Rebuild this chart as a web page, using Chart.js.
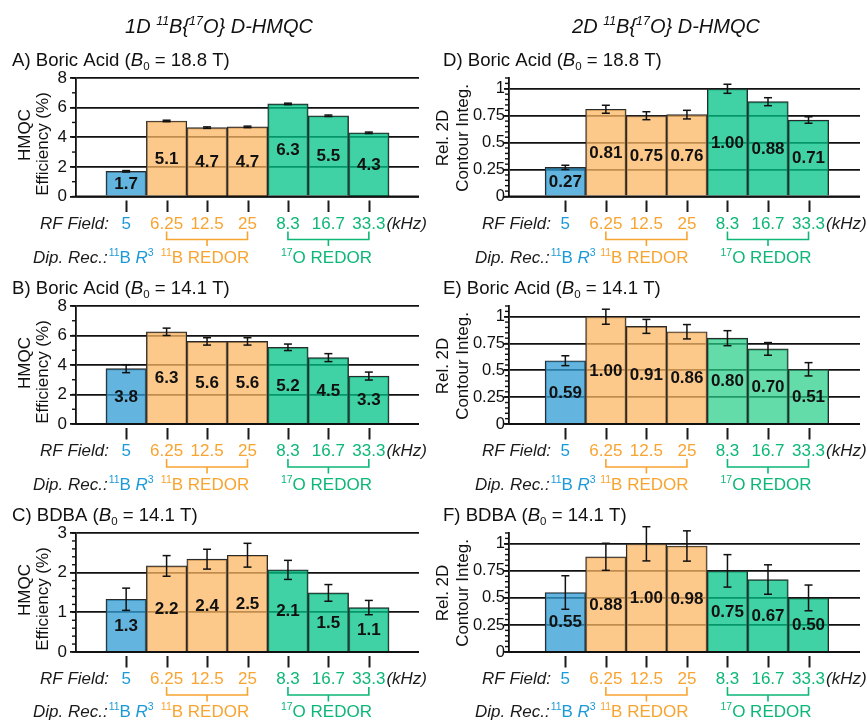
<!DOCTYPE html>
<html>
<head>
<meta charset="utf-8">
<title>11B{17O} D-HMQC efficiency</title>
<script src="https://cdn.jsdelivr.net/npm/chart.js@4.4.1/dist/chart.umd.min.js"></script>
<style>
  html, body { margin: 0; padding: 0; background: #fff; }
  #wrap { position: relative; width: 867px; height: 721px; overflow: hidden; }
  #wrap canvas { position: absolute; left: 0; top: 0; }
</style>
</head>
<body>
<div id="wrap">
  <canvas id="cA" width="867" height="721"></canvas>
  <canvas id="cB" width="867" height="721"></canvas>
  <canvas id="cC" width="867" height="721"></canvas>
  <canvas id="cD" width="867" height="721"></canvas>
  <canvas id="cE" width="867" height="721"></canvas>
  <canvas id="cF" width="867" height="721"></canvas>
</div>
<script>
// ---- data ----
const rfField = ["5", "6.25", "12.5", "25", "8.3", "16.7", "33.3"];
const barGroup = [0, 1, 1, 1, 2, 2, 2]; // 0 = 11B R3, 1 = 11B REDOR, 2 = 17O REDOR

// 1D HMQC efficiency (%)
const effA = [1.7, 5.1, 4.65, 4.7, 6.25, 5.45, 4.3];
const errA = [0.05, 0.05, 0.05, 0.05, 0.05, 0.05, 0.05];
const labA = ["1.7", "5.1", "4.7", "4.7", "6.3", "5.5", "4.3"];

const effB = [3.75, 6.25, 5.6, 5.6, 5.2, 4.5, 3.25];
const errB = [0.27, 0.25, 0.25, 0.25, 0.22, 0.27, 0.27];
const labB = ["3.8", "6.3", "5.6", "5.6", "5.2", "4.5", "3.3"];

const effC = [1.33, 2.17, 2.34, 2.44, 2.07, 1.49, 1.12];
const errC = [0.28, 0.26, 0.25, 0.3, 0.24, 0.21, 0.18];
const labC = ["1.3", "2.2", "2.4", "2.5", "2.1", "1.5", "1.1"];

// 2D relative contour integrals
const relD = [0.27, 0.81, 0.75, 0.76, 1.0, 0.88, 0.71];
const errD = [0.02, 0.037, 0.037, 0.04, 0.042, 0.037, 0.03];
const labD = ["0.27", "0.81", "0.75", "0.76", "1.00", "0.88", "0.71"];

const relE = [0.59, 1.0, 0.91, 0.86, 0.8, 0.7, 0.51];
const errE = [0.046, 0.07, 0.065, 0.067, 0.07, 0.059, 0.062];
const labE = ["0.59", "1.00", "0.91", "0.86", "0.80", "0.70", "0.51"];

const relF = [0.55, 0.88, 1.0, 0.98, 0.75, 0.67, 0.5];
const errF = [0.155, 0.125, 0.158, 0.14, 0.15, 0.136, 0.119];
const labF = ["0.55", "0.88", "1.00", "0.98", "0.75", "0.67", "0.50"];

const dipRec = [
  [{ t: "11", s: "sup" }, { t: "B " }, { t: "R", it: true }, { t: "3", s: "sup" }],
  [{ t: "11", s: "sup" }, { t: "B REDOR" }],
  [{ t: "17", s: "sup" }, { t: "O REDOR" }],
];

// ---- styling ----
const FAM = '"Liberation Sans", Arial, Helvetica, sans-serif';
const textCol = ["#1b9ad7", "#f8a431", "#0db777"];
const barCol = ["rgba(50,158,213,0.76)", "rgba(252,183,100,0.75)", "rgba(0,195,134,0.75)"];
const barColLight = "rgba(40,206,136,0.72)";

const cols = [
  { x0: 76, x1: 419, xmin: -1.24, xmax: 7.24, titleX: 12, rfX: 40, dipX: 33, yt: [25, 43], ytOff: [57, 66], headX: 219, tickSize: 17, tickPad: 3, tickLen: 6 },
  { x0: 509, x1: 860, xmin: -1.39, xmax: 7.27, titleX: 443, rfX: 482, dipX: 475, yt: [443, 463], ytOff: [60, 60], headX: 666, tickSize: 16.5, tickPad: -1, tickLen: 5 },
];
const rows = [
  { top: 78, bottom: 196.5, rf: 32, dip: 66 },
  { top: 306, bottom: 424, rf: 32, dip: 66 },
  { top: 533, bottom: 652, rf: 32, dip: 64.5 },
];

function runFont(r, size) {
  const sz = r.s ? size * 0.62 : size;
  return (r.it ? "italic " : "") + (r.b ? "bold " : "") + sz.toFixed(1) + "px " + FAM;
}
function runsWidth(ctx, runs, size) {
  let w = 0;
  runs.forEach((r) => {
    ctx.font = runFont(r, size);
    w += ctx.measureText(r.t).width;
  });
  return w;
}
function drawRuns(ctx, runs, x, y, size, align, color) {
  const w = runsWidth(ctx, runs, size);
  let cx = align === "center" ? x - w / 2 : align === "right" ? x - w : x;
  ctx.textAlign = "left";
  ctx.textBaseline = "alphabetic";
  runs.forEach((r) => {
    ctx.font = runFont(r, size);
    ctx.fillStyle = r.c || color || "#111";
    const dy = r.s === "sup" ? -size * 0.4 : r.s === "sub" ? size * 0.24 : 0;
    ctx.fillText(r.t, cx, y + dy);
    cx += ctx.measureText(r.t).width;
  });
  return cx;
}
function seg(ctx, xa, ya, xb, yb) {
  ctx.beginPath();
  ctx.moveTo(xa, ya);
  ctx.lineTo(xb, yb);
  ctx.stroke();
}

const deco = {
  id: "deco",
  afterDraw(chart, args, o) {
    const ctx = chart.ctx;
    const area = chart.chartArea;
    const ys = chart.scales.y;
    const bars = chart.getDatasetMeta(0).data;
    const col = o.col;
    const row = o.row;
    const b = area.bottom;
    ctx.save();

    // baseline over the bars
    ctx.strokeStyle = "#111";
    ctx.lineWidth = 1.8;
    seg(ctx, area.left, ys.getPixelForValue(0), area.right, ys.getPixelForValue(0));

    // tick marks under the axis, one per bar
    ctx.strokeStyle = "#1a1a1a";
    ctx.lineWidth = 2;
    bars.forEach((el) => seg(ctx, Math.round(el.x) + 0.5, b + 4, Math.round(el.x) + 0.5, b + 15.5));

    // minor ticks on y axis
    ctx.strokeStyle = "#111";
    ctx.lineWidth = 1.4;
    for (let v = 0; v <= ys.max + 1e-9; v += o.minor) {
      const p = ys.getPixelForValue(v);
      seg(ctx, area.left - 4, p, area.left, p);
    }

    // error bars
    ctx.lineWidth = 1.5;
    bars.forEach((el, i) => {
      const hi = ys.getPixelForValue(o.vals[i] + o.err[i]);
      const lo = ys.getPixelForValue(o.vals[i] - o.err[i]);
      seg(ctx, el.x, hi, el.x, lo);
      seg(ctx, el.x - 4, hi, el.x + 4, hi);
      seg(ctx, el.x - 4, lo, el.x + 4, lo);
    });

    // value labels inside bars
    ctx.fillStyle = "#111";
    ctx.font = "bold 17px " + FAM;
    ctx.textAlign = "center";
    ctx.textBaseline = "middle";
    bars.forEach((el, i) => {
      ctx.fillText(o.labs[i], el.x, (el.y + el.base) / 2 + 1);
    });

    // panel title
    drawRuns(ctx, [{ t: o.letter + ") " + o.sample + " (" }, { t: "B", it: true }, { t: "0", s: "sub" }, { t: " = " + o.field + " T)" }], col.titleX, area.top - 12.5, 18.6, "left", "#111");

    // y axis title (two lines, rotated)
    o.yTitle.forEach((line, k) => {
      ctx.save();
      ctx.translate(col.yt[k], area.top + col.ytOff[k]);
      ctx.rotate(-Math.PI / 2);
      ctx.font = "17px " + FAM;
      ctx.fillStyle = "#111";
      ctx.textAlign = "center";
      ctx.textBaseline = "middle";
      ctx.fillText(line, 0, 0);
      ctx.restore();
    });

    // header above the column
    if (o.header) {
      drawRuns(ctx, o.header, col.headX, 33, 20, "center", "#111");
    }

    // RF field row
    const rfY = b + row.rf;
    drawRuns(ctx, [{ t: "RF Field:", it: true }], col.rfX, rfY, 17, "left", "#1a1a1a");
    bars.forEach((el, i) => {
      drawRuns(ctx, [{ t: rfField[i] }], el.x, rfY, 17, "center", textCol[barGroup[i]]);
    });
    const last = bars[bars.length - 1];
    ctx.font = "17px " + FAM;
    const lw = ctx.measureText(rfField[rfField.length - 1]).width;
    drawRuns(ctx, [{ t: "(kHz)", it: true }], last.x + lw / 2 + 1, rfY, 17, "left", "#1a1a1a");

    // brackets
    const xm = {};
    [1, 2].forEach((g) => {
      const idx = barGroup.map((v, i) => (v === g ? i : -1)).filter((i) => i >= 0);
      const xa = bars[idx[0]].x;
      const xb = bars[idx[idx.length - 1]].x;
      xm[g] = (xa + xb) / 2;
      const yb = rfY + 11;
      ctx.strokeStyle = textCol[g];
      ctx.lineWidth = 1.6;
      ctx.beginPath();
      ctx.moveTo(xa, yb - 8);
      ctx.lineTo(xa, yb);
      ctx.lineTo(xb, yb);
      ctx.lineTo(xb, yb - 8);
      ctx.moveTo(xm[g], yb);
      ctx.lineTo(xm[g], yb + 6.5);
      ctx.stroke();
    });

    // dipolar recoupling row
    const dipY = b + row.dip;
    const xe = drawRuns(ctx, [{ t: "Dip. Rec.:", it: true }], col.dipX, dipY, 17, "left", "#1a1a1a");
    drawRuns(ctx, dipRec[0], xe + 1, dipY, 17, "left", textCol[0]);
    drawRuns(ctx, dipRec[1], xm[1] - 2, dipY, 17, "center", textCol[1]);
    drawRuns(ctx, dipRec[2], xm[2] - 2, dipY, 17, "center", textCol[2]);

    ctx.restore();
  },
};

function makePanel(id, colIdx, rowIdx, cfg) {
  const col = cols[colIdx];
  const row = rows[rowIdx];
  const yW = 40;
  const colors = barGroup.map((g) => (cfg.lightGreen && g === 2 ? barColLight : barCol[g]));
  return new Chart(document.getElementById(id), {
    type: "bar",
    data: {
      datasets: [
        {
          data: cfg.vals.map((v, i) => ({ x: i, y: v })),
          backgroundColor: colors,
          borderColor: "#2a2a2a",
          borderWidth: 1.2,
          barPercentage: 1,
          categoryPercentage: 1,
        },
      ],
    },
    options: {
      responsive: false,
      animation: false,
      events: [],
      layout: {
        padding: { left: col.x0 - yW, right: 867 - col.x1, top: row.top, bottom: 721 - row.bottom },
      },
      plugins: {
        legend: { display: false },
        tooltip: { enabled: false },
        deco: Object.assign({ col, row }, cfg),
      },
      scales: {
        x: { type: "linear", display: false, min: col.xmin, max: col.xmax, offset: false },
        y: {
          min: 0,
          max: cfg.ymax,
          afterFit(scale) {
            scale.width = yW;
          },
          border: { display: true, color: "#111", width: 1.8 },
          grid: { color: "#111", lineWidth: 1.8, drawTicks: true, tickLength: col.tickLen, tickColor: "#111" },
          ticks: {
            stepSize: cfg.step,
            includeBounds: false,
            padding: col.tickPad,
            color: "#111",
            font: { family: FAM, size: col.tickSize },
            callback: (v) => String(v),
          },
        },
      },
    },
    plugins: [deco],
  });
}

const head1D = [{ t: "1D ", it: true }, { t: "11", s: "sup", it: true }, { t: "B{", it: true }, { t: "17", s: "sup", it: true }, { t: "O} D-HMQC", it: true }];
const head2D = [{ t: "2D ", it: true }, { t: "11", s: "sup", it: true }, { t: "B{", it: true }, { t: "17", s: "sup", it: true }, { t: "O} D-HMQC", it: true }];
const effTitle = ["HMQC", "Efficiency (%)"];
const relTitle = ["Rel. 2D", "Contour Integ."];

makePanel("cA", 0, 0, { vals: effA, err: errA, labs: labA, ymax: 8, step: 2, minor: 1, letter: "A", sample: "Boric Acid", field: "18.8", yTitle: effTitle, header: head1D });
makePanel("cB", 0, 1, { vals: effB, err: errB, labs: labB, ymax: 8, step: 2, minor: 1, letter: "B", sample: "Boric Acid", field: "14.1", yTitle: effTitle });
makePanel("cC", 0, 2, { vals: effC, err: errC, labs: labC, ymax: 3, step: 1, minor: 0.2, letter: "C", sample: "BDBA", field: "14.1", yTitle: effTitle });
makePanel("cD", 1, 0, { vals: relD, err: errD, labs: labD, ymax: 1.1, step: 0.25, minor: 0.05, letter: "D", sample: "Boric Acid", field: "18.8", yTitle: relTitle, header: head2D });
makePanel("cE", 1, 1, { vals: relE, err: errE, labs: labE, ymax: 1.1, step: 0.25, minor: 0.05, letter: "E", sample: "Boric Acid", field: "14.1", yTitle: relTitle, lightGreen: true });
makePanel("cF", 1, 2, { vals: relF, err: errF, labs: labF, ymax: 1.1, step: 0.25, minor: 0.05, letter: "F", sample: "BDBA", field: "14.1", yTitle: relTitle });
</script>
</body>
</html>
